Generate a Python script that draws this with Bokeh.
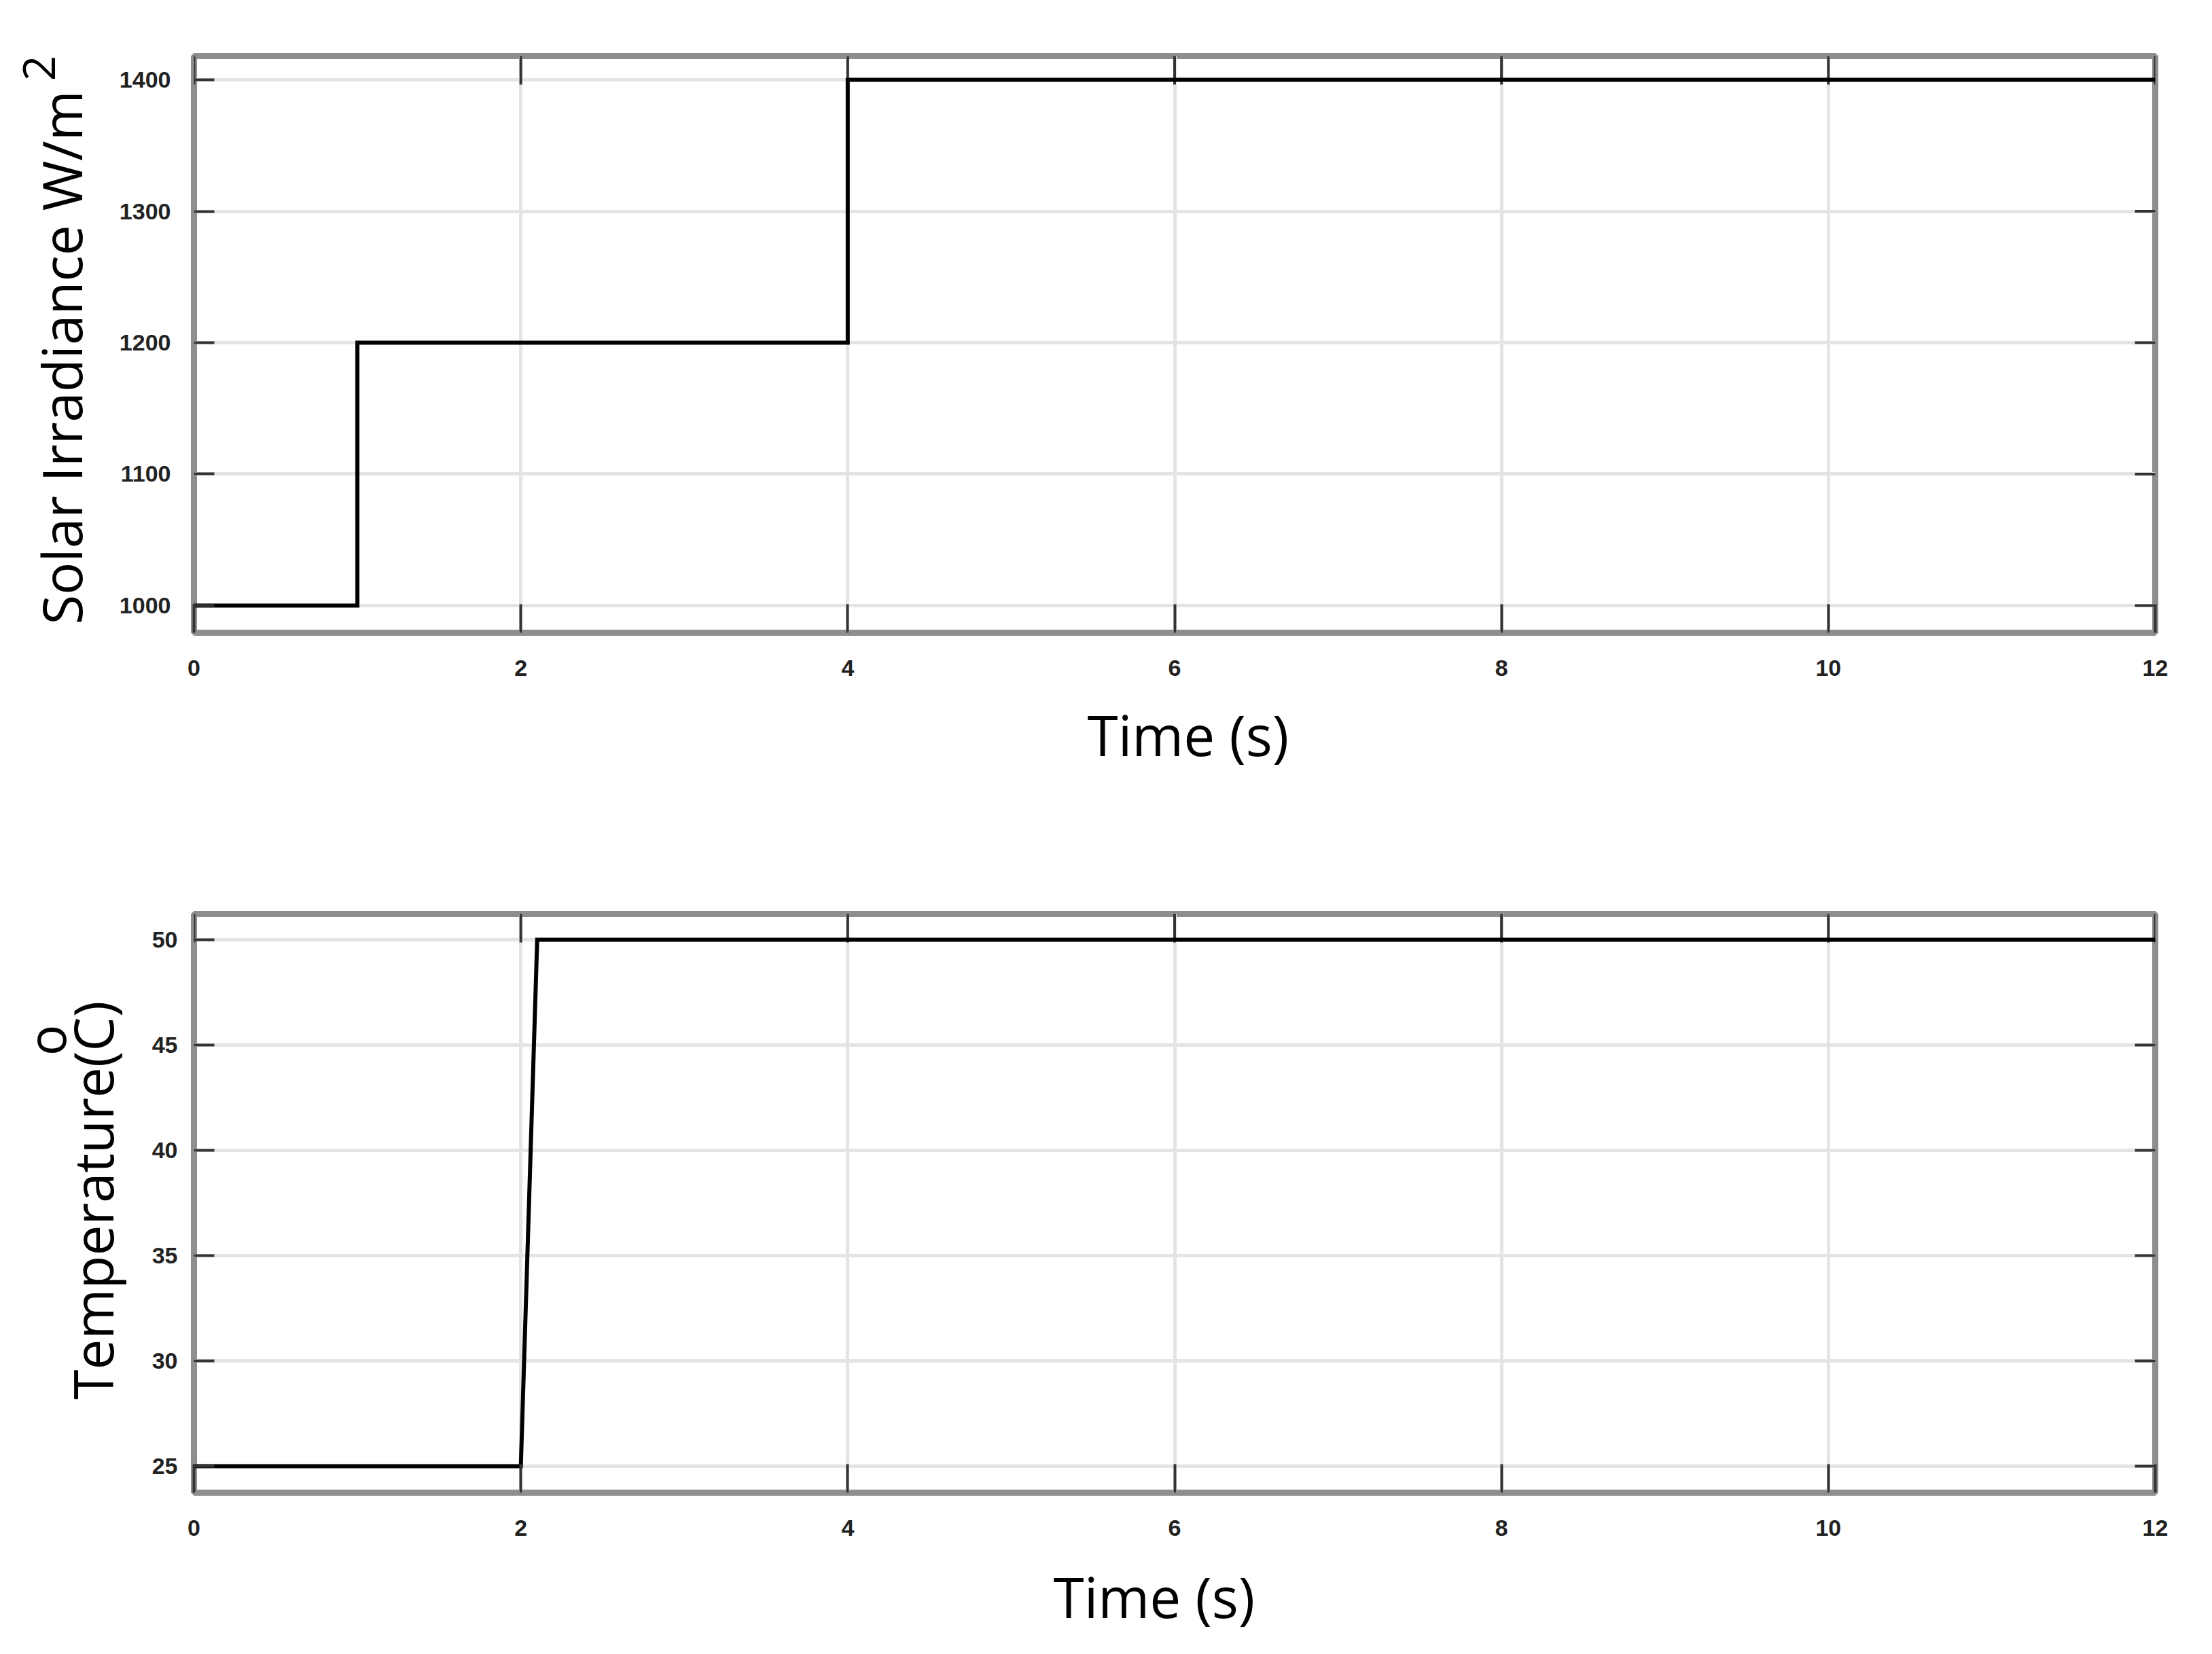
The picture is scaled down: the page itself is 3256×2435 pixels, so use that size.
import math
from bokeh.plotting import figure
from bokeh.models import Range1d, FixedTicker, Label, Title
from bokeh.layouts import column, row
from bokeh.embed import file_html
from bokeh.resources import INLINE

# ---------------- data ----------------
irr_time = [0, 1, 1, 4, 4, 12]
irradiance = [1000, 1000, 1200, 1200, 1400, 1400]
temp_time = [0, 2, 2.1, 12]
temperature = [25, 25, 50, 50]

x_ticks = [0, 2, 4, 6, 8, 10, 12]
irr_ticks = [1000, 1100, 1200, 1300, 1400]
temp_ticks = [25, 30, 35, 40, 45, 50]

x_label = "Time (s)"
irr_label = "Solar Irradiance W/m"
irr_sup = "2"
temp_label = "Temperature(C)"
temp_sup = "o"

FONT = "Open Sans"
TICK_FONT = "Liberation Sans"
TICK_COLOR = "#333333"
FRAME_L = 285
FRAME_R = 68


def make_fig(width, height, yr, yticks, mb_left, mb_top, mb_bottom, ystandoff,
             xlab_left, xlab_standoff):
    p = figure(width=width, height=height, output_backend="svg", toolbar_location=None,
               x_range=Range1d(0, 12), y_range=Range1d(*yr),
               min_border_left=mb_left, min_border_right=FRAME_R,
               min_border_top=mb_top, min_border_bottom=mb_bottom)
    p.background_fill_color = "white"
    p.border_fill_color = "white"
    p.outline_line_color = "#8e8e8e"
    p.outline_line_width = 9
    p.xaxis.ticker = FixedTicker(ticks=x_ticks)
    p.yaxis.ticker = FixedTicker(ticks=yticks)
    for ax, tin, st in ((p.xaxis[0], 42, 40), (p.yaxis[0], 30, ystandoff)):
        ax.axis_line_color = None
        ax.major_tick_in = tin
        ax.major_tick_out = 0
        ax.minor_tick_line_color = None
        ax.major_tick_line_color = TICK_COLOR
        ax.major_tick_line_width = 4
        ax.major_label_standoff = st
        ax.major_label_text_font = TICK_FONT
        ax.major_label_text_font_style = "bold"
        ax.major_label_text_font_size = "34px"
        ax.major_label_text_color = "#222222"
    # x-axis title, placed below the tick labels
    p.add_layout(Title(text=x_label, align="left", offset=xlab_left - FRAME_L,
                       standoff=xlab_standoff, vertical_align="bottom",
                       text_font=FONT, text_font_size="82px", text_font_style="normal",
                       text_color="black"), "below")
    p.xgrid.ticker = FixedTicker(ticks=x_ticks)
    p.ygrid.ticker = FixedTicker(ticks=yticks)
    for g in (p.xgrid[0], p.ygrid[0]):
        g.grid_line_color = "#e4e4e4"
        g.grid_line_width = 5
    # mirrored inward ticks on top and right edges (half of each dash is clipped by the frame)
    p.scatter(x=x_ticks, y=[yr[1]] * len(x_ticks), marker="dash", angle=math.pi / 2,
              size=84, line_color=TICK_COLOR, line_width=4)
    p.scatter(x=[12] * len(yticks), y=yticks, marker="dash",
              size=60, line_color=TICK_COLOR, line_width=4)
    return p


def make_strip(width, height, yr):
    # narrow text-only panel left of each plot; its frame lines up with the plot's frame
    s = figure(width=width, height=height, output_backend="svg", toolbar_location=None,
               x_range=Range1d(0, width), y_range=Range1d(*yr),
               x_axis_type=None, y_axis_type=None,
               min_border_left=0, min_border_right=0,
               min_border_top=0, min_border_bottom=0)
    s.outline_line_color = None
    s.background_fill_color = "white"
    s.border_fill_color = "white"
    s.xgrid.visible = False
    s.ygrid.visible = False
    return s


def vlabel(s, x, y, text, size, align):
    s.add_layout(Label(x=x, y=y, text=text, text_font=FONT, angle=math.pi / 2,
                       text_font_size=f"{size}px", text_align=align,
                       text_baseline="alphabetic", text_color="black"))


def ymap(top, bottom, yr):
    # page pixel row -> data value of a plot whose frame spans rows top..bottom
    return lambda py: yr[1] - (py - top) / (bottom - top) * (yr[1] - yr[0])


# ---------------- top ----------------
yr1 = (979.3, 1418.1)
fy1 = ymap(82, 931, yr1)
W1 = 170
s1 = make_strip(W1, 1218, yr1)
vlabel(s1, 89, fy1(919), irr_label, 80, "left")
vlabel(s1, 57, fy1(100), irr_sup, 66, "center")
p1 = make_fig(3240 - W1, 1218, yr1, irr_ticks, FRAME_L - W1, 82, 1218 - 931, 34, 1600, 50)
p1.line(irr_time, irradiance, line_color="black", line_width=6, line_join="miter")

# ---------------- bottom ----------------
yr2 = (23.74, 51.23)
fy2 = ymap(1345, 2197, yr2)
W2 = 200
H2 = 1217
s2 = make_strip(W2, H2, yr2)
vlabel(s2, 135, fy2(2060), temp_label, 80, "left")
vlabel(s2, 67, fy2(1531), temp_sup, 76, "center")
p2 = make_fig(3240 - W2, H2, yr2, temp_ticks, FRAME_L - W2, 1345 - 1218, 1218 + H2 - 2197, 24,
              1550, 57)
p2.line(temp_time, temperature, line_color="black", line_width=6, line_join="miter")

layout = column(row(s1, p1, spacing=0), row(s2, p2, spacing=0), spacing=0)
open("out.html", "w").write(file_html(layout, INLINE))
